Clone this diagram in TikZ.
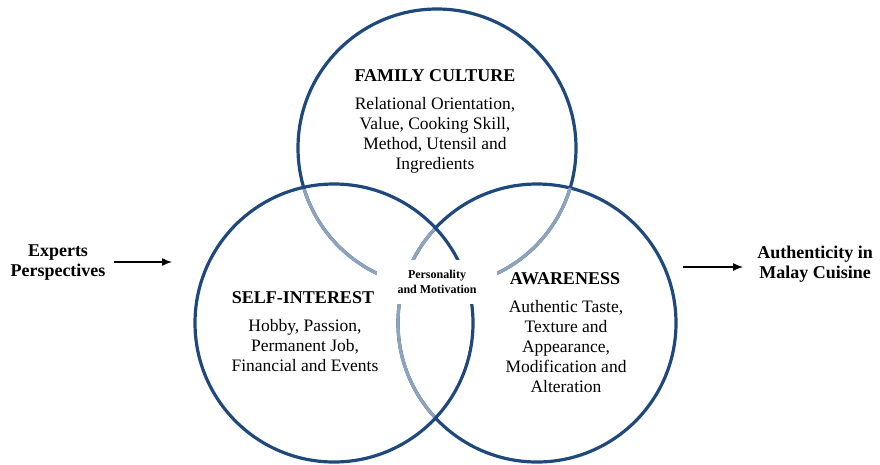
\documentclass[tikz,border=0pt]{standalone}
\usepackage{fontspec}
\setmainfont{Liberation Serif}
\usetikzlibrary{arrows.meta,calc,positioning}
\definecolor{ringdark}{HTML}{1F497D}
\definecolor{ringlight}{HTML}{8EA3BE}
\begin{document}
\begin{tikzpicture}[x=1pt,y=-1pt,
    ring/.style={line width=3.2pt,draw=ringdark},
    ringback/.style={line width=3.2pt,draw=ringlight},
    head/.style={font=\fontsize{18}{20}\selectfont\bfseries,align=center,inner sep=1pt},
    body/.style={font=\fontsize{17.5}{20}\selectfont,align=center,inner sep=1pt},
    side/.style={font=\fontsize{18}{20}\selectfont\bfseries,align=center,inner sep=2pt},
    flow/.style={line width=1.4pt,-{Latex[length=10pt,width=8pt]}}]
		\useasboundingbox (0,0) rectangle (880,464);
		\coordinate (fc) at (437,148);
		\coordinate (si) at (334,323);
		\coordinate (aw) at (537,323);
		% front rings first, back arcs over them, left ring on top
		\draw[ring] (fc) circle (139pt);
		\draw[ring] (aw) circle (139pt);
		\begin{scope}
			\clip (si) circle (139pt);
			\draw[ringback] (fc) circle (139pt);
			\draw[ringback] (aw) circle (139pt);
		\end{scope}
		\begin{scope}
			\clip (aw) circle (139pt);
			\draw[ringback] (fc) circle (139pt);
		\end{scope}
		\draw[ring] (si) circle (139pt);
		% texts
		\node[head] (fcHead) at (435,76) {FAMILY CULTURE};
		\node[body] (fcBody) at (435,135) {Relational Orientation,\\Value, Cooking Skill,\\Method, Utensil and\\Ingredients};
		\node[head] (siHead) at (303,298) {SELF-INTEREST};
		\node[body] (siBody) at (305,346) {Hobby, Passion,\\Permanent Job,\\Financial and Events};
		\node[head,fill=white] (awHead) at (565,279) {AWARENESS};
		\node[body] (awBody) at (566,347) {Authentic Taste,\\Texture and\\Appearance,\\Modification and\\Alteration};
		\node[fill=white,minimum width=120pt,minimum height=44pt,inner sep=0pt,
			font=\fontsize{12}{15}\selectfont\bfseries,align=center] (pm) at (437,282) {Personality\\and Motivation};
		\node[side] (experts) at (58,263) {Experts\\Perspectives};
		\node[side] (auth) at (815,264) {Authenticity in\\Malay Cuisine};
		\coordinate (inEnd) at (172,262);
		\coordinate (outStart) at (683,267);
		\draw[flow,shorten <=6pt] (experts.east |- inEnd) -- (inEnd);
		\draw[flow,shorten >=12pt] (outStart) -- (auth.west |- outStart);
\end{tikzpicture}
\end{document}
